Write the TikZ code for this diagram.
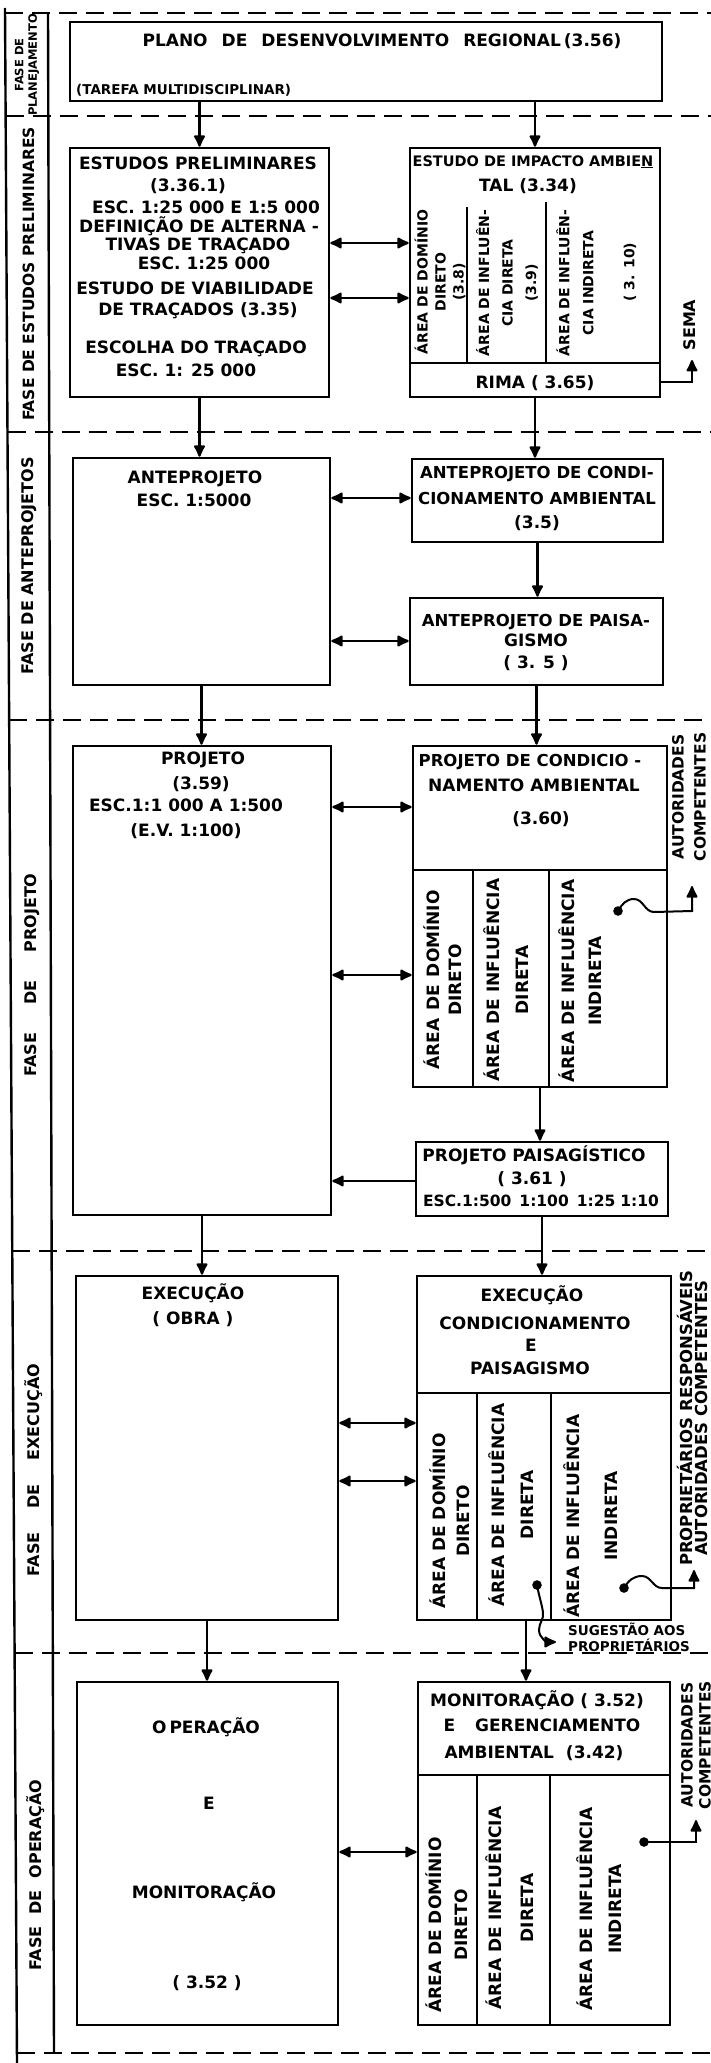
\documentclass[tikz,border=0pt]{standalone}
\usepackage{fontspec}
\setmainfont{DejaVu Sans}
\usetikzlibrary{arrows.meta}
\newcommand{\fb}[2]{\fontsize{#1}{#2}\selectfont\bfseries}
\newcommand{\bx}[5]{\node[box,minimum width={#4-#2},minimum height={#5-#3}] (#1) at ({(#2+#4)/2},{(#3+#5)/2}) {};}
\begin{document}
\begin{tikzpicture}[x=1pt,y=-1pt,
  >={Latex[length=14pt,width=13pt,round]},
  box/.style={draw,line width=2.6pt,inner sep=0pt},
  div/.style={line width=2.3pt},
  phase/.style={line width=2.5pt,dash pattern=on 18pt off 9pt},
  frame/.style={line width=2.4pt},
  arr/.style={line width=2.2pt,->},
  darr/.style={line width=2.2pt,<->},
  wire/.style={line width=2pt},
  tx/.style={inner sep=0pt,text height=12.4pt,text depth=0pt,font=\fb{17}{20}},
  rt/.style={rotate=90,inner sep=0pt,align=center}
]
\fill[white] (0,0) rectangle (711,2063);
\useasboundingbox (0,0) rectangle (711,2063);

% phase separators and left frame
\draw[phase] (5,13) -- (711,13);
\draw[phase] (5.6,116) -- (711,116);
\draw[phase] (7.5,432) -- (711,432);
\draw[phase] (9.1,720) -- (711,720);
\draw[phase] (12.2,1251) -- (711,1251);
\draw[phase] (14.6,1653) -- (711,1653);
\draw[phase] (16.9,2053) -- (711,2053);
\draw[frame] (5,8) -- (17,2063);
\draw[frame] (48,13) -- (54,2053);

% phase labels
\node[rt,font=\fb{11.5}{13.5}] (l1) at (27,65) {FASE DE\\PLANEJAMENTO};
\node[rt,font=\fb{15.5}{18}] (l2) at (28.5,274) {FASE DE ESTUDOS PRELIMINARES};
\node[rt,font=\fb{16}{18}] (l3) at (29.5,566) {FASE DE ANTEPROJETOS};
\node[rt,font=\fb{16}{18}] (l4) at (32,975) {FASE\hspace{28pt}DE\hspace{28pt}PROJETO};
\node[rt,font=\fb{16}{18}] (l5) at (34,1470) {FASE\hspace{24pt}DE\hspace{24pt}EXECUÇÃO};
\node[rt,font=\fb{16}{18}] (l6) at (36,1875) {FASE\hspace{12pt}DE\hspace{12pt}OPERAÇÃO};

% boxes
\bx{plano}{70}{22}{662}{101}
\bx{estudos}{70}{148}{329}{397}
\bx{eia}{410}{148}{660}{397}
\bx{ante}{73}{458}{330}{685}
\bx{condi}{412}{459}{663}{542}
\bx{paisa}{410}{598}{663}{685}
\bx{projeto}{73}{746}{331}{1215}
\bx{pcond}{413}{746}{667}{1087}
\bx{ppais}{416}{1142}{668}{1216}
\bx{exec}{76}{1276}{338}{1620}
\bx{execr}{417}{1276}{671}{1620}
\bx{oper}{77}{1682}{338}{2025}
\bx{mon}{418}{1682}{670}{2025}

% internal divisions
\draw[div] (410,363) -- (660,363);
\draw[div] (467,207) -- (467,363);
\draw[div] (546,202) -- (546,363);
\draw[div] (413,870) -- (667,870);
\draw[div] (473,870) -- (473,1087);
\draw[div] (549,870) -- (549,1087);
\draw[div] (417,1393) -- (671,1393);
\draw[div] (477,1393) -- (477,1620);
\draw[div] (551,1393) -- (551,1620);
\draw[div] (418,1775) -- (670,1775);
\draw[div] (477,1775) -- (477,2025);
\draw[div] (550,1775) -- (550,2025);

% PLANO texts
\node[tx] (p1) at (382,40) {PLANO\hspace{14pt}DE\hspace{14pt}DESENVOLVIMENTO\hspace{14pt}REGIONAL\hspace{3pt}(3.56)};
\node[tx,font=\fb{13.5}{16},text height=9.8pt,anchor=west] (p2) at (76,90) {(TAREFA MULTIDISCIPLINAR)};

% ESTUDOS PRELIMINARES
\node[tx] (e1) at (198,163) {ESTUDOS PRELIMINARES};
\node[tx] (e2) at (188,185) {(3.36.1)};
\node[tx] (e3) at (206,207) {ESC. 1:25 000 E 1:5 000};
\node[tx] (e4) at (199,226) {DEFINIÇÃO DE ALTERNA -};
\node[tx] (e5) at (198,244) {TIVAS DE TRAÇADO};
\node[tx] (e6) at (204,263) {ESC. 1:25 000};
\node[tx] (e7) at (195,288) {ESTUDO DE VIABILIDADE};
\node[tx] (e8) at (198,309) {DE TRAÇADOS (3.35)};
\node[tx] (e9) at (196,347) {ESCOLHA DO TRAÇADO};
\node[tx] (e10) at (186,370) {ESC. 1: 25 000};

% EIA
\node[tx,font=\fb{14.5}{17}] (i1) at (533,160) {ESTUDO DE IMPACTO AMBIE\underline{N}};
\node[tx] (i2) at (528,185) {TAL (3.34)};
\node[rt,font=\fb{14}{18}] (i3) at (440,282) {ÁREA DE DOMÍNIO\\DIRETO\\(3.8)};
\node[rt,font=\fb{14}{23.5}] (i4) at (507,283) {ÁREA DE INFLUÊN-\\CIA DIRETA\\(3.9)};
\node[rt,font=\fb{14}{24}] (i5) at (575,283) {ÁREA DE INFLUÊN-\\CIA INDIRETA};
\node[rt,font=\fb{14}{18}] (i6) at (630,272) {( 3. 10)};
\node[tx] (i7) at (535,382) {RIMA ( 3.65)};
\node[rt,font=\fb{16}{18}] (sema) at (690,325) {SEMA};

% ANTEPROJETOS
\node[tx] (a1) at (195,477) {ANTEPROJETO};
\node[tx] (a2) at (194,500) {ESC. 1:5000};
\node[tx,font=\fb{16.5}{20}] (c1t) at (537,472) {ANTEPROJETO DE CONDI-};
\node[tx,font=\fb{16.5}{20}] (c2t) at (537,498) {CIONAMENTO AMBIENTAL};
\node[tx] (c3t) at (537,522) {(3.5)};
\node[tx,font=\fb{16.5}{20}] (s1t) at (536,620) {ANTEPROJETO DE PAISA-};
\node[tx] (s2t) at (536,640) {GISMO};
\node[tx] (s3t) at (536,662) {( 3. 5 )};

% PROJETO
\node[tx] (r1) at (203,758) {PROJETO};
\node[tx] (r2) at (201,783) {(3.59)};
\node[tx] (r3) at (186,805) {ESC.1:1 000 A 1:500};
\node[tx] (r4) at (186,830) {(E.V. 1:100)};
\node[tx,font=\fb{16.5}{20}] (q1) at (530,760) {PROJETO DE CONDICIO -};
\node[tx] (q2) at (534,785) {NAMENTO AMBIENTAL};
\node[tx] (q3) at (541,818) {(3.60)};
\node[rt,font=\fb{17}{22}] (q4) at (443,980) {ÁREA\hspace{8pt}DE\hspace{8pt}DOMÍNIO\\DIRETO};
\node[rt,font=\fb{17}{29}] (q5) at (506.5,980) {ÁREA DE INFLUÊNCIA\\DIRETA};
\node[rt,font=\fb{17}{27}] (q6) at (580.5,981) {ÁREA DE INFLUÊNCIA\\INDIRETA};
\node[rt,font=\fb{15.5}{22}] (q7) at (689,797) {AUTORIDADES\\COMPETENTES};
\node[tx] (g1) at (534,1155) {PROJETO PAISAGÍSTICO};
\node[tx] (g2) at (532,1178) {( 3.61 )};
\node[tx,font=\fb{15.5}{18}] (g3) at (541,1200) {ESC.1:500\hspace{8pt}1:100\hspace{8pt}1:25\hspace{5pt}1:10};

% EXECUCAO
\node[tx] (x1) at (193,1293) {EXECUÇÃO};
\node[tx] (x2) at (193,1318) {( OBRA )};
\node[tx] (y1) at (532,1295) {EXECUÇÃO};
\node[tx] (y2) at (535,1323) {CONDICIONAMENTO};
\node[tx] (y3) at (531,1345) {E};
\node[tx] (y4) at (530,1368) {PAISAGISMO};
\node[rt,font=\fb{17}{24}] (y5) at (450,1521) {ÁREA\hspace{6pt}DE\hspace{6pt}DOMÍNIO\\DIRETO};
\node[rt,font=\fb{17}{29}] (y6) at (511.5,1505) {ÁREA DE INFLUÊNCIA\\DIRETA};
\node[rt,font=\fb{17}{38}] (y7) at (591,1516) {ÁREA DE INFLUÊNCIA\\INDIRETA};
\node[rt,font=\fb{16.5}{15.5}] (y8) at (692.5,1418) {PROPRIETÁRIOS RESPONSÁVEIS\\AUTORIDADES COMPETENTES};
\node[tx,font=\fb{13.5}{16},text height=9.8pt,anchor=west] (sg1) at (568,1631) {SUGESTÃO AOS};
\node[tx,font=\fb{13.5}{16},text height=9.8pt,anchor=west] (sg2) at (568,1647) {PROPRIETÁRIOS};

% OPERACAO
\node[tx] (o1) at (206,1727) {O\hspace{3pt}PERAÇÃO};
\node[tx] (o2) at (209,1803) {E};
\node[tx] (o3) at (204,1892) {MONITORAÇÃO};
\node[tx] (o4) at (207,1982) {( 3.52 )};
\node[tx] (m1) at (537,1700) {MONITORAÇÃO ( 3.52)};
\node[tx] (m2) at (542,1725) {E\hspace{20pt}GERENCIAMENTO};
\node[tx] (m3) at (534,1752) {AMBIENTAL\hspace{12pt}(3.42)};
\node[rt,font=\fb{17}{26}] (m4) at (447,1925) {ÁREA\hspace{6pt}DE\hspace{6pt}DOMÍNIO\\DIRETO};
\node[rt,font=\fb{17}{32}] (m5) at (510,1908) {ÁREA DE INFLUÊNCIA\\DIRETA};
\node[rt,font=\fb{17}{29}] (m6) at (599.5,1909) {ÁREA DE INFLUÊNCIA\\INDIRETA};
\node[rt,font=\fb{15.5}{18}] (m7) at (696,1745) {AUTORIDADES\\COMPETENTES};

% vertical flow arrows
\draw[arr] (plano.south -| estudos.north) -- (estudos.north);
\draw[arr] (plano.south -| eia.north) -- (eia.north);
\draw[arr] (estudos.south) -- (estudos.south |- ante.north);
\draw[arr] (eia.south) -- (eia.south |- condi.north);
\draw[arr] (condi.south) -- (condi.south |- paisa.north);
\draw[arr] (ante.south) -- (ante.south |- projeto.north);
\draw[arr] (paisa.south) -- (paisa.south |- pcond.north);
\draw[arr] (pcond.south) -- (pcond.south |- ppais.north);
\draw[arr] (projeto.south) -- (projeto.south |- exec.north);
\draw[arr] (ppais.south) -- (ppais.south |- execr.north);
\draw[arr] (exec.south) -- (exec.south |- oper.north);
\coordinate (cx) at ([xshift=-18pt]execr.south);
\draw[arr] (cx) -- (cx |- mon.north);

% horizontal arrows
\coordinate (h1) at (0,243);
\coordinate (h2) at (0,298);
\coordinate (h3) at (0,498);
\coordinate (h4) at (0,641);
\coordinate (h5) at (0,807);
\coordinate (h6) at (0,975);
\coordinate (h7) at (0,1181);
\coordinate (h8) at (0,1423);
\coordinate (h9) at (0,1481);
\coordinate (h10) at (0,1852);
\draw[darr] (estudos.east |- h1) -- (eia.west |- h1);
\draw[darr] (estudos.east |- h2) -- (eia.west |- h2);
\draw[darr] (ante.east |- h3) -- (condi.west |- h3);
\draw[darr] (ante.east |- h4) -- (paisa.west |- h4);
\draw[darr] (projeto.east |- h5) -- (pcond.west |- h5);
\draw[darr] (projeto.east |- h6) -- (pcond.west |- h6);
\draw[arr] (ppais.west |- h7) -- (projeto.east |- h7);
\draw[darr] (exec.east |- h8) -- (execr.west |- h8);
\draw[darr] (exec.east |- h9) -- (execr.west |- h9);
\draw[darr] (oper.east |- h10) -- (mon.west |- h10);

% SEMA
\coordinate (sm1) at (692,382);
\coordinate (sm2) at (692,360);
\draw[arr] (eia.east |- sm1) -- (sm1) -- (sm2);

% wavy connectors to authorities
\coordinate (w1) at (618,911);
\coordinate (w1b) at (692,911);
\coordinate (w1t) at (692,886);
\fill (w1) circle[radius=4.8pt];
\draw[wire,->] (w1) to[out=60,in=180] (634,899) to[out=0,in=180] (654,912) -- (w1b) -- (w1t);

\coordinate (w2) at (624,1588);
\coordinate (w2b) at (694,1588);
\coordinate (w2t) at (694,1570);
\fill (w2) circle[radius=4.8pt];
\draw[wire,->] (w2) to[out=60,in=180] (642,1576) to[out=0,in=180] (662,1588) -- (w2b) -- (w2t);

\coordinate (w3) at (537,1585);
\coordinate (w3t) at (556,1642);
\fill (w3) circle[radius=4.8pt];
\draw[wire,->] (w3) to[out=-80,in=100] (543,1612) to[out=-80,in=90] (539,1630) to[out=-90,in=180] (w3t);

\coordinate (w4) at (644,1842);
\coordinate (w4b) at (696,1842);
\coordinate (w4t) at (696,1820);
\fill (w4) circle[radius=4.8pt];
\draw[wire,->] (w4) -- (w4b) -- (w4t);
\end{tikzpicture}
\end{document}
